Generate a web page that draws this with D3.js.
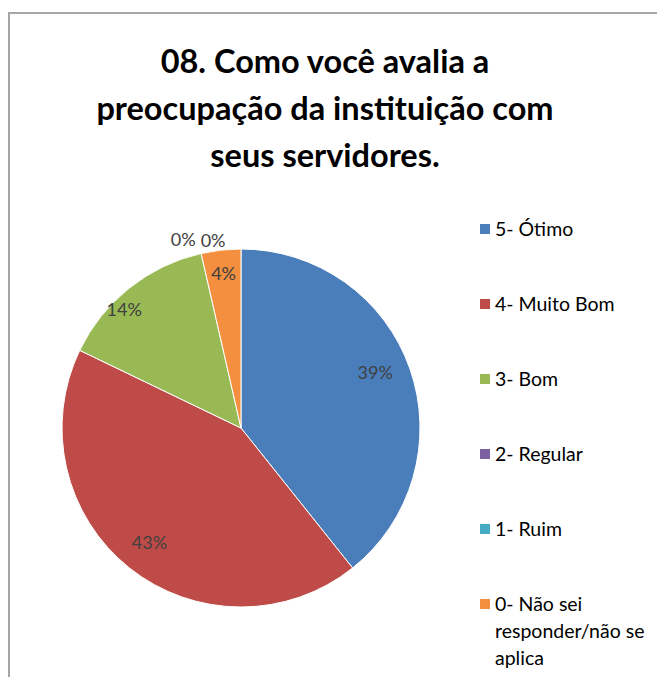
<!DOCTYPE html>
<html><head><meta charset="utf-8">
<script src="https://cdn.jsdelivr.net/npm/d3@7"></script>
<style>body{margin:0;background:#fff}svg{display:block;font-family:Lato,"Open Sans",sans-serif}</style>
</head><body>
<script>
const titleLines = ["08. Como você avalia a", "preocupação da instituição com", "seus servidores."];
const categories = ["5- Ótimo", "4- Muito Bom", "3- Bom", "2- Regular", "1- Ruim", "0- Não sei responder/não se aplica"];
const legendLines = [["5- Ótimo"], ["4- Muito Bom"], ["3- Bom"], ["2- Regular"], ["1- Ruim"], ["0- Não sei", "responder/não se", "aplica"]];
const counts = [11, 12, 4, 0, 0, 1];
const labels = ["39%", "43%", "14%", "0%", "0%", "4%"];
const colors = ["#4A7EBB", "#BE4B48", "#98B954", "#7D60A0", "#46AAC5", "#F38F3E"];
// label placement (polar, relative to radius) – styling only
const labelRadius = [0.81, 0.82, 0.93, 1.1, 1.06, 0.87];
const labelAngleShift = [-3, 0, -6, -4.2, 4.4, 0];

const W = 657, H = 677;
const svg = d3.select("body").append("svg").attr("width", W).attr("height", H);
svg.append("rect").attr("width", W).attr("height", H).attr("fill", "#fff");
// frame
svg.append("path").attr("d", `M9,${H+5} V13 H${W+5}`).attr("fill", "none").attr("stroke", "#a6a6a6").attr("stroke-width", 2);

// title
svg.append("g").selectAll("text").data(titleLines).join("text")
  .attr("x", 325).attr("y", (d, i) => 73 + i * 47)
  .attr("text-anchor", "middle").attr("font-weight", "bold").attr("font-size", 32.5).attr("fill", "#000")
  .text(d => d);

const cx = 241, cy = 428, R = 179;
const pie = d3.pie().sort(null).value(d => d);
const arcs = pie(counts);
const arc = d3.arc().innerRadius(0).outerRadius(R);
const g = svg.append("g").attr("transform", `translate(${cx},${cy})`);
g.selectAll("path").data(arcs).join("path")
  .attr("d", arc).attr("fill", (d, i) => colors[i])
  .attr("stroke", "#fff").attr("stroke-width", d => d.value > 0 ? 1 : 0);

g.selectAll("text").data(arcs).join("text")
  .attr("transform", (d, i) => {
    const a = (d.startAngle + d.endAngle) / 2 + labelAngleShift[i] * Math.PI / 180;
    const r = R * labelRadius[i];
    return `translate(${r * Math.sin(a)},${-r * Math.cos(a)})`;
  })
  .attr("text-anchor", "middle").attr("dy", "0.35em")
  .attr("font-size", 18).attr("fill", "#404040")
  .text((d, i) => labels[i]);

// legend
const lg = svg.append("g").attr("transform", "translate(480,0)");
const ly = d3.scalePoint().domain(d3.range(categories.length)).range([229, 604]);
const items = lg.selectAll("g").data(categories).join("g").attr("transform", (d, i) => `translate(0,${ly(i)})`);
items.append("rect").attr("x", 0).attr("y", -5).attr("width", 10).attr("height", 10).attr("fill", (d, i) => colors[i]);
items.append("text").attr("x", 15).attr("font-size", 19.5).attr("fill", "#000")
  .selectAll("tspan").data((d, i) => legendLines[i]).join("tspan")
  .attr("x", 15).attr("dy", (d, j) => j === 0 ? "0.35em" : "1.4em").text(d => d);
</script>
</body></html>
